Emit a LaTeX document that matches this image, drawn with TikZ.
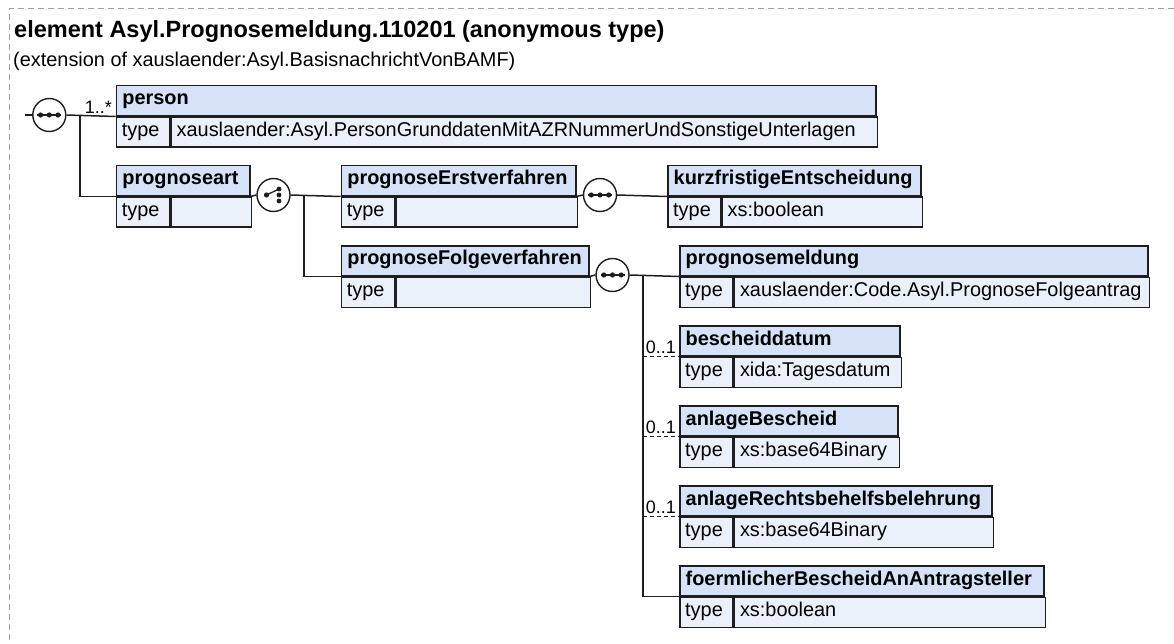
\documentclass[tikz,border=0pt]{standalone}
\usepackage{fontspec}
\setmainfont{Liberation Sans}
\definecolor{hdrc}{HTML}{D5E2F8}
\definecolor{typc}{HTML}{EAF1FB}
\definecolor{linec}{HTML}{1E1E1E}
\definecolor{bordc}{HTML}{A0A0A0}
\newcommand{\fsz}{\fontsize{19.9}{24}\selectfont}
\newcommand{\xelem}[7]{%
  \node[hdrbox, minimum width=#4] (#1) at (#2,#3) {};
  \node[lbl, font=\bfseries\fsz] (#1-n) at ([xshift=6.5pt,yshift=-20pt]#1.north west) {#6};
  \node[typbox, minimum width=#5] (#1-t) at (#1.south west) {};
  \node[typbox, minimum width=#4-#5] (#1-v) at (#1-t.north east) {};
  \node[lbl, font=\fsz] (#1-tl) at ([xshift=6pt,yshift=-20pt]#1-t.north west) {type};
  \node[lbl, font=\fsz] (#1-vl) at ([xshift=6pt,yshift=-20pt]#1-v.north west) {#7};
}
\begin{document}
\begin{tikzpicture}[x=1pt,y=-1pt,
  hdrbox/.style={draw=linec, fill=hdrc, line width=1.5pt, minimum height=30pt, inner sep=0pt, anchor=north west},
  typbox/.style={draw=linec, fill=typc, line width=1.5pt, minimum height=30pt, inner sep=0pt, anchor=north west},
  lbl/.style={anchor=base west, inner sep=0pt, text=black},
  mult/.style={anchor=base east, inner sep=0pt, font=\fontsize{18}{20}\selectfont},
  conn/.style={draw=linec, line width=1.5pt},
  optconn/.style={draw=linec, line width=1.5pt, dash pattern=on 4pt off 3pt},
  seqsym/.style={circle, draw=linec, fill=white, line width=1.4pt, minimum size=33pt, inner sep=0pt,
    path picture={
      \draw[draw=linec, line width=1.3pt] ([xshift=-12pt]path picture bounding box.center) -- ([xshift=12pt]path picture bounding box.center);
      \foreach \dx in {-8.7,0,8.7} \fill[fill=linec] ([xshift=\dx pt]path picture bounding box.center) circle (2.6pt);
    }},
  choicesym/.style={circle, draw=linec, fill=white, line width=1.4pt, minimum size=33pt, inner sep=0pt,
    path picture={
      \draw[draw=linec, line width=1.3pt] ([xshift=-7pt]path picture bounding box.center) -- ([xshift=5.5pt,yshift=6pt]path picture bounding box.center);
      \fill[fill=linec] ([xshift=-7pt]path picture bounding box.center) circle (2.6pt);
      \foreach \dy in {-6,0,6} \fill[fill=linec] ([xshift=5.5pt,yshift=\dy pt]path picture bounding box.center) circle (2.4pt);
    }}
]
\useasboundingbox (0,0) rectangle (1174,644);
\draw[draw=bordc, line width=1pt, dash pattern=on 6pt off 4pt] (9,650) -- (9,9) -- (1180,9);

\node[anchor=base west, inner sep=0pt, font=\bfseries\fontsize{23.5}{28}\selectfont] (title) at (14,38) {element Asyl.Prognosemeldung.110201 (anonymous type)};
\node[anchor=base west, inner sep=0pt, font=\fsz] (subtitle) at (13,66.5) {(extension of xauslaender:Asyl.BasisnachrichtVonBAMF)};

\xelem{person}{115.7}{85}{759.3}{53.3}{person}{xauslaender:Asyl.PersonGrunddatenMitAZRNummerUndSonstigeUnterlagen}
\xelem{part}{115.7}{165}{133.3}{53.3}{prognoseart}{}
\xelem{erst}{340.7}{165}{234.3}{53.3}{prognoseErstverfahren}{}
\xelem{folge}{340.7}{245}{247.3}{53.3}{prognoseFolgeverfahren}{}
\xelem{kurz}{667}{165}{253}{53}{kurzfristigeEntscheidung}{xs:boolean}
\xelem{pmeld}{679}{245}{468}{53.3}{prognosemeldung}{xauslaender:Code.Asyl.PrognoseFolgeantrag}
\xelem{besch}{679}{325}{220}{53.3}{bescheiddatum}{xida:Tagesdatum}
\xelem{anlb}{679}{405}{218}{53.3}{anlageBescheid}{xs:base64Binary}
\xelem{anlr}{679}{485}{312}{53.3}{anlageRechtsbehelfsbelehrung}{xs:base64Binary}
\xelem{foerm}{679}{565}{364}{53.3}{foermlicherBescheidAnAntragsteller}{xs:boolean}

\node[seqsym] (seq1) at (49.3,115) {};
\node[choicesym] (ch) at (273.5,195) {};
\node[seqsym] (seq2) at (600,195) {};
\node[seqsym] (seq3) at (612.5,275) {};

\coordinate (root) at (25,115);
\coordinate (b1) at (80,115);
\coordinate (b2) at (304,195);
\coordinate (b3) at (643,275);

\draw[conn] (root) -- (seq1.west);
\draw[conn] (seq1.east) -- (person.south west);
\draw[conn] (b1) |- (part.south west);
\draw[conn] (part.south east) -- (ch.west);
\draw[conn] (ch.east) -- (erst.south west);
\draw[conn] (b2) |- (folge.south west);
\draw[conn] (erst.south east) -- (seq2.west);
\draw[conn] (seq2.east) -- (kurz.south west);
\draw[conn] (folge.south east) -- (seq3.west);
\draw[conn] (seq3.east) -- (pmeld.south west);
\draw[conn] (b3) |- (foerm.south west);
\draw[optconn] (b3 |- besch.south west) -- (besch.south west);
\draw[optconn] (b3 |- anlb.south west) -- (anlb.south west);
\draw[optconn] (b3 |- anlr.south west) -- (anlr.south west);

\node[mult] (m1) at ([xshift=-3.5pt,yshift=3pt]person.south west) {1..*};
\node[mult] (m2) at ([xshift=-3pt,yshift=3pt]besch.south west) {0..1};
\node[mult] (m3) at ([xshift=-3pt,yshift=3pt]anlb.south west) {0..1};
\node[mult] (m4) at ([xshift=-3pt,yshift=3pt]anlr.south west) {0..1};
\end{tikzpicture}
\end{document}
